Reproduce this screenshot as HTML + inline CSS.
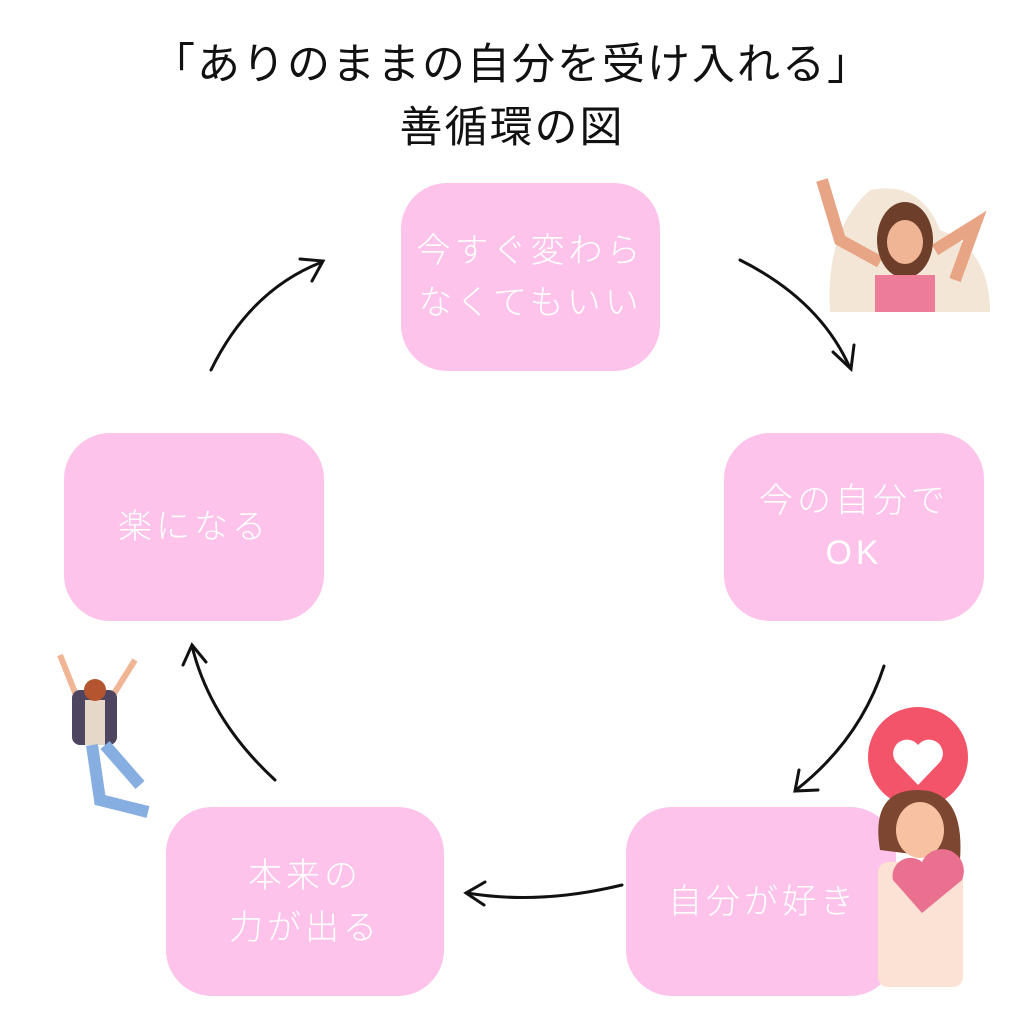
<!DOCTYPE html>
<html><head><meta charset="utf-8"><style>
body{margin:0;width:1024px;height:1024px;background:#fff;position:relative;overflow:hidden;font-family:"Liberation Sans","Noto Sans CJK JP",sans-serif}
.t{position:absolute;left:0;width:1024px;text-align:center;font-size:43px;color:#111;font-weight:400;letter-spacing:2px;line-height:50px}
.b{position:absolute;background:#fdc3eb;border-radius:46px;color:#fff;font-size:34px;font-weight:300;display:flex;align-items:center;justify-content:center;text-align:center;line-height:52px;letter-spacing:4px}
svg{position:absolute;left:0;top:0}
</style></head><body>
<div class="t" style="top:40px">「ありのままの自分を受け入れる」</div>
<div class="t" style="top:103px">善循環の図</div>
<div class="b" style="left:401px;top:183px;width:259px;height:188px">今すぐ変わら<br>なくてもいい</div>
<div class="b" style="left:724px;top:433px;width:260px;height:188px">今の自分で<br>OK</div>
<div class="b" style="left:626px;top:807px;width:270px;height:189px;justify-content:flex-start;padding-left:42px;box-sizing:border-box">自分が好き</div>
<div class="b" style="left:166px;top:807px;width:278px;height:189px">本来の<br>力が出る</div>
<div class="b" style="left:64px;top:433px;width:260px;height:188px">楽になる</div>
<svg width="1024" height="1024" fill="none" stroke="#111" stroke-width="3" stroke-linecap="round">
<path d="M740 260 Q820 300 850 368"/><path d="M833 352 L851 369 L854 345"/>
<path d="M884 666 Q860 740 796 790"/><path d="M799 770 L795 791 L818 790"/>
<path d="M622 885 Q540 905 467 893"/><path d="M485 882 L466 893 L484 905"/>
<path d="M275 780 Q210 720 192 646"/><path d="M183 665 L192 645 L206 662"/>
<path d="M211 370 Q250 290 322 262"/><path d="M300 259 L323 261 L312 281"/>
</svg>
<svg width="1024" height="1024">
<path d="M830 312 Q825 230 870 190 Q920 180 940 230 Q990 250 990 312 Z" fill="#f3e6d6"/>
<path d="M822 180 L840 240 L880 262" stroke="#e8a585" stroke-width="12" fill="none"/>
<path d="M935 250 L975 225 L955 280" stroke="#e8a585" stroke-width="12" fill="none"/>
<ellipse cx="905" cy="240" rx="28" ry="38" fill="#6d3e2a"/>
<ellipse cx="905" cy="242" rx="18" ry="22" fill="#f0b595"/>
<path d="M875 275 L935 275 L935 312 L875 312 Z" fill="#ec7c98"/>
<circle cx="918" cy="757" r="50" fill="#f35469"/>
<path d="M918 785 L896 762 A12 12 0 0 1 918 745 A12 12 0 0 1 940 762 Z" fill="#fff"/>
<path d="M880 850 Q870 790 918 790 Q965 790 960 860 Z" fill="#7c4630"/>
<ellipse cx="920" cy="830" rx="24" ry="28" fill="#f7c1a2"/>
<rect x="878" y="862" width="85" height="125" rx="10" fill="#fbe2d4"/>
<path d="M922 913 L893 880 A18 18 0 0 1 922 862 A18 18 0 0 1 962 880 Z" fill="#ea7090"/>
<path d="M60 655 L78 700 M135 660 L110 700" stroke="#f0b595" stroke-width="6"/>
<rect x="72" y="690" width="45" height="55" rx="8" fill="#4e4560"/>
<rect x="85" y="700" width="20" height="45" fill="#e6d8c8"/>
<circle cx="95" cy="690" r="11" fill="#b5552f"/>
<path d="M92 745 L100 800 L148 812 M105 745 L140 785" stroke="#87aee0" stroke-width="12" fill="none"/>
</svg>
</body></html>
